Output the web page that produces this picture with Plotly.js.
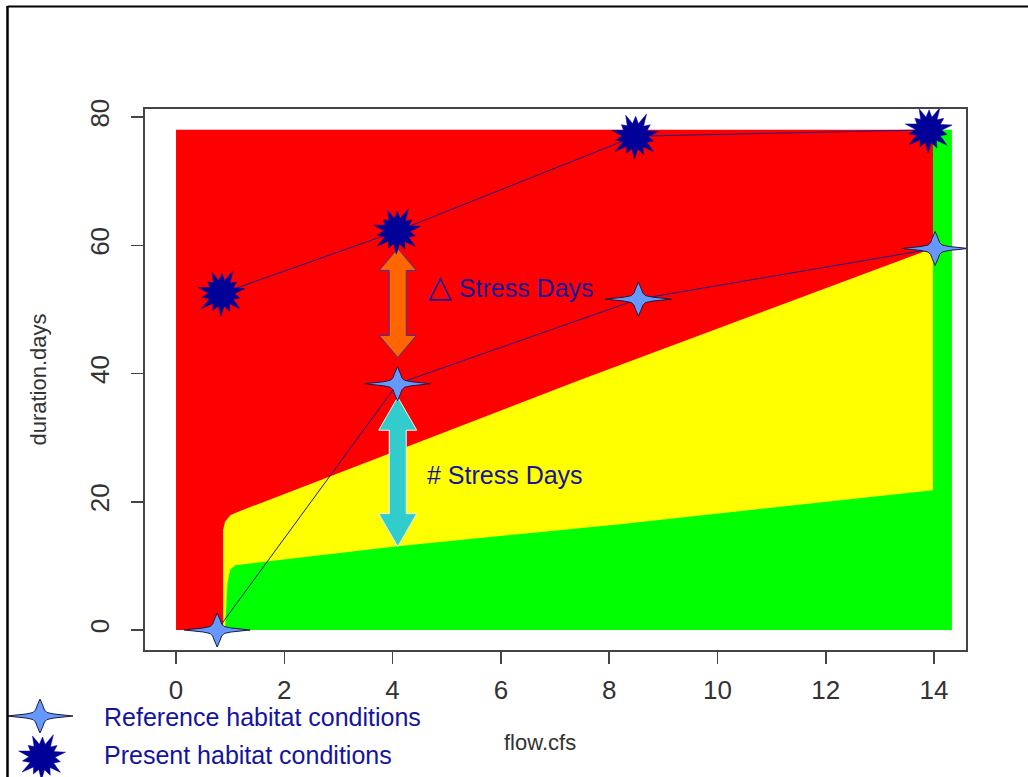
<!DOCTYPE html>
<html><head><meta charset="utf-8">
<script src="https://cdn.plot.ly/plotly-3.0.1.min.js"></script>
<style>html,body{margin:0;padding:0;background:#fff}#chart{width:1028px;height:777px}</style>
</head><body><div id="chart"></div>
<script>
// ---- data ----
const refFlow  = [0.76, 4.09, 8.54, 14.02];
const refDays  = [0, 38.4, 51.6, 59.5];
const presFlow = [0.84, 4.08, 8.48, 13.9];
const presDays = [52.5, 62.2, 77.0, 78.0];

// habitat zones (flow, days)
const redX    = [0, 14.0, 14.0, 0];
const redY    = [0, 0, 78, 78];
const yellowX = [0.87, 0.87, 0.905, 1.0, 1.15, 7.46, 14.0, 14.0];
const yellowY = [0, 15.6, 16.9, 17.9, 18.45, 39.0, 59.6, 0];
const greenX  = [0.905, 0.95, 1.0, 1.09, 4.0, 8.2, 13.98, 13.98, 14.33, 14.33];
const greenY  = [0, 7.3, 9.4, 10.1, 13.0, 16.5, 21.8, 78, 78, 0];

const xTicks = [0, 2, 4, 6, 8, 10, 12, 14];
const yTicks = [0, 20, 40, 60, 80];

// arrows: flow position, days top / bottom
const deltaArrowX = 4.095, deltaArrowTop = 59.5, deltaArrowBot = 42.5;
const countArrowX = 4.095, countArrowTop = 36.3, countArrowBot = 13.0;

const labels = {
  delta: '<span style="font-size:31px">\u25B3</span> Stress Days',
  count: '# Stress Days',
  ref: 'Reference habitat conditions',
  pres: 'Present habitat conditions'
};

// ---- styles ----
const FONT = 'Liberation Sans, Arial, DejaVu Sans, sans-serif';
const TXT = '#14149c';
const GRAY = '#333333';

// marker outlines (pixel offsets)
const starPts = [[-33,0],[-14,2],[-7,3.5],[-4.5,6],[-3,10],[0,17],[3,10],[4.5,6],[7,3.5],[14,2],[33,0],
                 [14,-2],[7,-3.5],[4.5,-6],[3,-10],[0,-17],[-3,-10],[-4.5,-6],[-7,-3.5],[-14,-2]];
function starPath(){ return 'M' + starPts.map(p => p[0] + ',' + p[1]).join(' L') + ' Z'; }
const burstOuter = [24,19,25,20,23,18,24,20,25,19,23,20,24,19];
function burstPath(){
  const n = burstOuter.length, pts = [];
  for (let i = 0; i < n; i++) {
    const a = 2*Math.PI*i/n + 0.2, b = a + Math.PI/n;
    pts.push([burstOuter[i]*Math.cos(a), burstOuter[i]*Math.sin(a)]);
    pts.push([13*Math.cos(b), 13*Math.sin(b)]);
  }
  return 'M' + pts.map(p => p[0].toFixed(1) + ',' + p[1].toFixed(1)).join(' L') + ' Z';
}
function arrowPath(half, head, hw, sw){
  const b = half - head;
  return `M0,${half} L${hw},${b} L${sw},${b} L${sw},${-b} L${hw},${-b} L0,${-half} L${-hw},${-b} L${-sw},${-b} L${-sw},${b} L${-hw},${b} Z`;
}

const traces = [
  {x: redX, y: redY, fill: 'toself', fillcolor: '#ff0000', mode: 'lines', line: {width: 0, color: '#ff0000'}, hoverinfo: 'skip', showlegend: false},
  {x: yellowX, y: yellowY, fill: 'toself', fillcolor: '#ffff00', mode: 'lines', line: {width: 0, color: '#ffff00'}, hoverinfo: 'skip', showlegend: false},
  {x: greenX, y: greenY, fill: 'toself', fillcolor: '#00ff00', mode: 'lines', line: {width: 0, color: '#00ff00'}, hoverinfo: 'skip', showlegend: false},
  {x: presFlow, y: presDays, mode: 'lines+markers', name: labels.pres, showlegend: false,
   line: {color: '#1a1a8c', width: 1}, marker: {symbol: 'circle', size: 18, color: '#000099', line: {width: 0}}},
  {x: refFlow, y: refDays, mode: 'lines+markers', name: labels.ref, showlegend: false,
   line: {color: '#1a1a8c', width: 1}, marker: {symbol: 'star-diamond', size: 18, color: '#6699ff', line: {width: 0}}}
];

const shapes = [];
function pixShape(xref, yref, x, y, path, fill, lc, lw){
  shapes.push({type: 'path', xref: xref, yref: yref, xsizemode: 'pixel', ysizemode: 'pixel',
    xanchor: x, yanchor: y, path: path, fillcolor: fill, line: {color: lc, width: lw}, layer: 'above'});
}
// arrows (anchored on axes)
const px = 541 / (81.25 + 3.12); // approx pixels per day for arrow sizing
pixShape('x','y', deltaArrowX, (deltaArrowTop+deltaArrowBot)/2,
  arrowPath((deltaArrowTop-deltaArrowBot)/2*px, 22, 18.5, 8.5), '#ff6600', '#3a3a9a', 1);
pixShape('x','y', countArrowX, (countArrowTop+countArrowBot)/2,
  arrowPath((countArrowTop-countArrowBot)/2*px, 33, 19, 8.5), '#33cccc', '#e8f4f4', 1);
// markers
presFlow.forEach((x, i) => pixShape('x','y', x, presDays[i], burstPath(), '#000099', '#000099', 0.5));
refFlow.forEach((x, i) => pixShape('x','y', x, refDays[i], starPath(), '#6699ff', '#1a1a40', 1));
// legend symbols (paper)
const PX = v => (v - 145) / 821, PY = v => (650 - v) / 541;
pixShape('paper','paper', PX(40), PY(716), starPath(), '#6699ff', '#1a1a40', 1);
pixShape('paper','paper', PX(42), PY(757), burstPath(), '#000099', '#000099', 0.5);
// outer frame
shapes.push({type: 'line', xref: 'paper', yref: 'paper', x0: PX(7.5), x1: PX(1030), y0: PY(6.5), y1: PY(6.5), line: {color: '#000', width: 2}});
shapes.push({type: 'line', xref: 'paper', yref: 'paper', x0: PX(7.5), x1: PX(7.5), y0: PY(6), y1: PY(780), line: {color: '#000', width: 2.5}});

const annotations = [
  {x: 4.62, y: 53.5, xref: 'x', yref: 'y', text: labels.delta, showarrow: false, xanchor: 'left', yanchor: 'middle',
   font: {family: FONT, size: 25, color: TXT}},
  {x: 4.6, y: 24.2, xref: 'x', yref: 'y', text: labels.count, showarrow: false, xanchor: 'left', yanchor: 'middle',
   font: {family: FONT, size: 25, color: TXT}},
  {x: PX(102), y: PY(717), xref: 'paper', yref: 'paper', text: labels.ref, showarrow: false, xanchor: 'left', yanchor: 'middle',
   font: {family: FONT, size: 25, color: TXT}},
  {x: PX(102), y: PY(755), xref: 'paper', yref: 'paper', text: labels.pres, showarrow: false, xanchor: 'left', yanchor: 'middle',
   font: {family: FONT, size: 25, color: TXT}},
  {x: PX(540), y: PY(742), xref: 'paper', yref: 'paper', text: 'flow.cfs', showarrow: false, xanchor: 'center', yanchor: 'middle',
   font: {family: FONT, size: 22, color: GRAY}}
];

const axisCommon = {
  showgrid: false, zeroline: false, showline: true, mirror: true, linecolor: '#444', linewidth: 2,
  ticks: 'outside', ticklen: 12, tickwidth: 1.5, tickcolor: '#444',
  tickfont: {family: FONT, size: 26, color: GRAY}
};

const layout = {
  width: 1028, height: 777,
  margin: {l: 145, r: 62, t: 109, b: 127},
  paper_bgcolor: '#fff', plot_bgcolor: '#fff',
  showlegend: false,
  xaxis: Object.assign({}, axisCommon, {range: [-0.573, 14.59], tickvals: xTicks, ticktext: xTicks.map(String),
    ticklabelstandoff: 4}),
  yaxis: Object.assign({}, axisCommon, {range: [-3.12, 81.25], tickvals: yTicks, ticktext: yTicks.map(String),
    tickangle: -90, ticklabelstandoff: 12,
    title: {text: 'duration.days', font: {family: FONT, size: 22, color: GRAY}, standoff: 32}}),
  shapes: shapes,
  annotations: annotations
};

Plotly.newPlot('chart', traces, layout, {displayModeBar: false, staticPlot: true});
</script>
</body></html>
